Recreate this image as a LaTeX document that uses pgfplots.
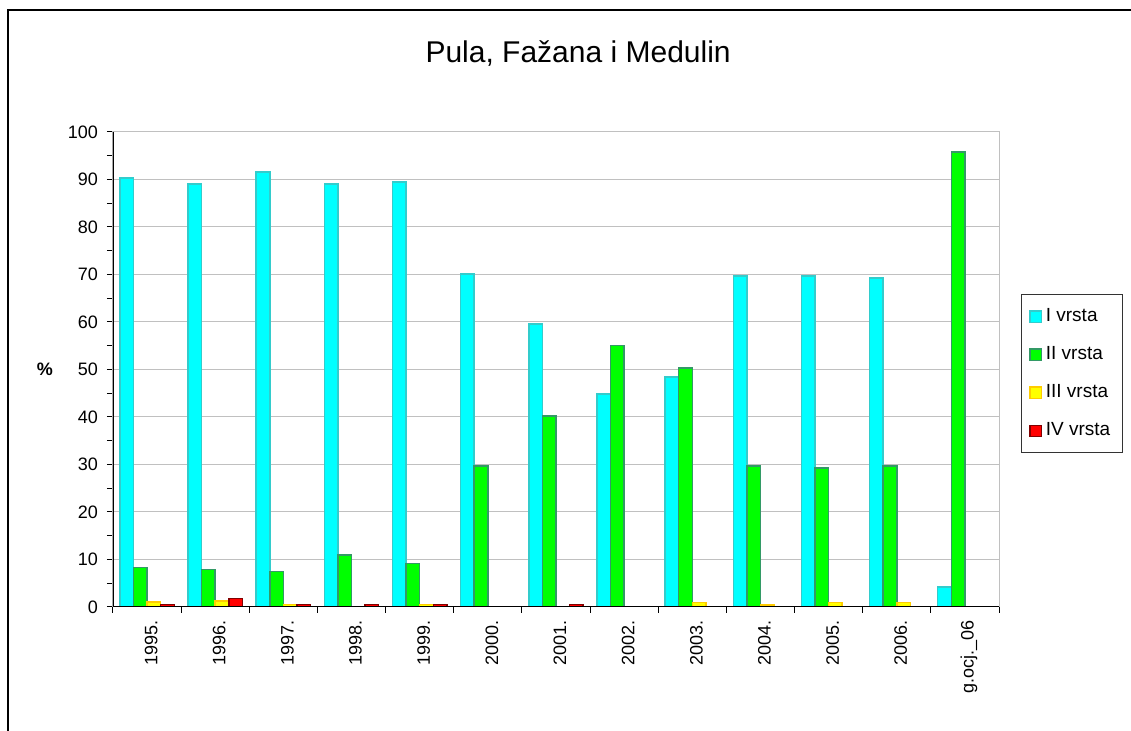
\documentclass[border=0pt]{standalone}
\usepackage{pgfplots}
\pgfplotsset{compat=1.18}
\usepackage{fontspec}
\setmainfont{Liberation Sans}
\definecolor{cI}{RGB}{0,255,255}
\definecolor{cIe}{RGB}{51,204,204}
\definecolor{cII}{RGB}{0,255,0}
\definecolor{cIIe}{RGB}{51,153,102}
\definecolor{cIII}{RGB}{255,255,0}
\definecolor{cIIIe}{RGB}{255,204,0}
\definecolor{cIV}{RGB}{255,0,0}
\definecolor{cIVe}{RGB}{128,0,0}
\definecolor{gridc}{RGB}{192,192,192}
\begin{document}
\begin{tikzpicture}
\useasboundingbox (0,0) rectangle (565.5pt,-365.5pt);
\draw[black, line width=1pt] (4pt,-370pt) -- (4pt,-5pt) -- (570pt,-5pt);
\begin{axis}[
  at={(56.5pt,-303.5pt)}, anchor=south west,
  scale only axis, width=443pt, height=237.5pt,
  ybar=0pt, bar width=6.8pt,
  xmin=-0.5, xmax=12.5, ymin=0, ymax=100,
  xtick={0,...,12},
  xticklabels={1995.,1996.,1997.,1998.,1999.,2000.,2001.,2002.,2003.,2004.,2005.,2006.,g.ocj.\_06},
  minor xtick={-0.5,0.5,...,12.5},
  major x tick style={draw=none},
  minor x tick style={black, line width=0.5pt},
  ytick={0,10,...,100},
  minor y tick num=1,
  y tick style={black, line width=0.5pt},
  tick align=outside, xtick pos=left, ytick pos=left,
  major tick length=3pt, minor tick length=3pt,
  ymajorgrids, major grid style={gridc, line width=0.5pt},
  axis line style={gridc, line width=0.5pt},
  /pgf/number format/assume math mode=true,
  tick label style={font=\fontsize{9}{10}\selectfont, text=black},
  xticklabel style={rotate=90, anchor=east, yshift=-2pt},
  yticklabel style={xshift=-1pt},
  ylabel={\textbf{\%}},
  ylabel style={rotate=-90, at={(axis description cs:0,0.5)}, anchor=center, xshift=-34pt, font=\fontsize{9}{10}\selectfont},
  title={Pula, Fažana i Medulin},
  title style={at={(axis description cs:0.525,1)}, anchor=center, yshift=33pt, font=\fontsize{15}{17}\selectfont},
  legend style={at={(rel axis cs:1.0248,0.659)}, anchor=north west, draw=black!80, line width=0.5pt,
    font=\fontsize{9.5}{10}\selectfont, row sep=7pt, inner xsep=4pt, inner ysep=5pt, cells={anchor=west}},
  legend image code/.code={\draw[#1, line width=0.6pt] (0pt,-2.8pt) rectangle (5.6pt,2.8pt);},
  legend cell align=left,
]
\addplot[fill=cI, draw=cIe, line width=0.75pt] coordinates {(0,90.3) (1,89.1) (2,91.6) (3,89.0) (4,89.5) (5,70.1) (6,59.6) (7,44.8) (8,48.4) (9,69.7) (10,69.7) (11,69.3) (12,4.2)};
\addplot[fill=cII, draw=cIIe, line width=0.75pt] coordinates {(0,8.3) (1,7.9) (2,7.5) (3,10.9) (4,9.2) (5,29.7) (6,40.2) (7,55.0) (8,50.3) (9,29.7) (10,29.3) (11,29.7) (12,95.8)};
\addplot[fill=cIII, draw=cIIIe, line width=0.75pt] coordinates {(0,1.0) (1,1.3) (2,0.5) (3,0) (4,0.5) (5,0) (6,0) (7,0) (8,0.9) (9,0.4) (10,0.9) (11,0.9) (12,0)};
\addplot[fill=cIV, draw=cIVe, line width=0.75pt] coordinates {(0,0.5) (1,1.8) (2,0.5) (3,0.5) (4,0.5) (5,0) (6,0.5) (7,0) (8,0) (9,0) (10,0) (11,0) (12,0)};
\legend{I vrsta, II vrsta, III vrsta, IV vrsta}
\draw[black, line width=0.6pt] (rel axis cs:0,1) -- (rel axis cs:0,0) -- (rel axis cs:1,0);
\end{axis}
\end{tikzpicture}
\end{document}
